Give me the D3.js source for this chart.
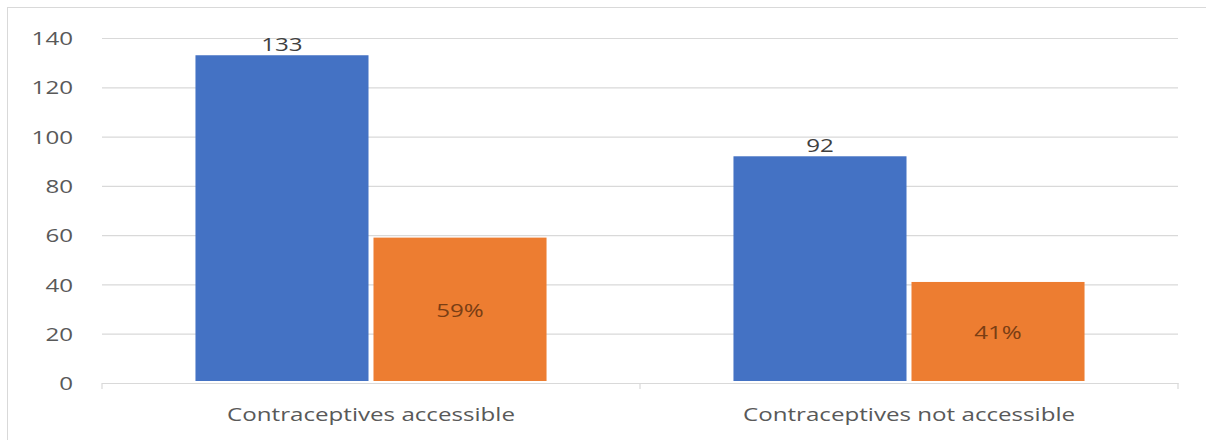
<!DOCTYPE html>
<html>
<head>
<meta charset="utf-8">
<script src="https://cdn.jsdelivr.net/npm/d3@7"></script>
<style>
  html, body { margin: 0; padding: 0; background: #fff; }
  svg { display: block; }
</style>
</head>
<body>
<svg id="chart" width="1206" height="440"></svg>
<script>
const categories = ["Contraceptives accessible", "Contraceptives not accessible"];
const seriesNames = ["Count", "Percent"];
const countValues = [133, 92];
const percentValues = [59, 41];
const countLabels = ["133", "92"];
const percentLabels = ["59%", "41%"];
const yTicks = [0, 20, 40, 60, 80, 100, 120, 140];
const colors = ["#4472C4", "#ED7D31"];

const svg = d3.select("#chart");
const W = 1206, H = 440;
const margin = { left: 102, right: 28, top: 38, bottom: 57 };
const x0 = margin.left, x1 = W - margin.right;
const yBottom = H - margin.bottom;
const FONT = "'Open Sans', sans-serif";
const STRETCH = 1.27;

function stretchText(sel) {
  sel.each(function () {
    const len = this.getComputedTextLength();
    d3.select(this).attr("textLength", len * STRETCH).attr("lengthAdjust", "spacingAndGlyphs");
  });
}

// border
svg.append("rect")
  .attr("x", 7.5).attr("y", 7.5)
  .attr("width", W + 10).attr("height", H + 10)
  .attr("fill", "none").attr("stroke", "#d9d9d9").attr("stroke-width", 1);

const x = d3.scaleBand().domain(categories).range([x0, x1]).paddingInner(0).paddingOuter(0);
const xs = d3.scaleBand().domain(seriesNames).range([0, x.bandwidth()]).paddingInner(0.028).paddingOuter(0.525);
const y = d3.scaleLinear().domain([0, 140]).range([yBottom, margin.top]);

// gridlines
svg.append("g")
  .attr("transform", `translate(${x0},0)`)
  .call(d3.axisLeft(y).tickValues(yTicks).tickSize(-(x1 - x0)).tickFormat(""))
  .call(g => g.select(".domain").remove())
  .call(g => g.selectAll("line").attr("stroke", "#d9d9d9").attr("stroke-width", 1.2));

// y tick labels
svg.append("g")
  .attr("transform", `translate(${x0 - 29},0)`)
  .call(d3.axisLeft(y).tickValues(yTicks).tickSize(0).tickFormat(d3.format("d")))
  .call(g => g.select(".domain").remove())
  .call(g => g.selectAll("text")
    .attr("x", 0).attr("dy", "0.35em")
    .attr("fill", "#595959")
    .style("font-family", FONT)
    .style("font-size", "19px")
    .call(stretchText));

// x axis
svg.append("g")
  .attr("transform", `translate(0,${yBottom})`)
  .call(d3.axisBottom(x).tickSize(0).tickPadding(25))
  .call(g => g.select(".domain").attr("stroke", "#d9d9d9").attr("stroke-width", 1.2))
  .call(g => g.selectAll("text")
    .attr("fill", "#595959")
    .style("font-family", FONT)
    .style("font-size", "19px")
    .call(stretchText));

// category boundary ticks
const bounds = [x0, ...categories.map(c => x(c) + x.bandwidth())];
svg.append("g").selectAll("line").data(bounds).join("line")
  .attr("x1", d => d).attr("x2", d => d)
  .attr("y1", yBottom).attr("y2", yBottom + 6)
  .attr("stroke", "#d9d9d9").attr("stroke-width", 1.2);

const data = categories.map((c, i) => ({ c, vals: [countValues[i], percentValues[i]], labs: [countLabels[i], percentLabels[i]] }));

const groups = svg.append("g").selectAll("g").data(data).join("g")
  .attr("transform", d => `translate(${x(d.c)},0)`);

groups.selectAll("rect").data(d => d.vals.map((v, j) => ({ v, j }))).join("rect")
  .attr("x", d => xs(seriesNames[d.j]))
  .attr("width", xs.bandwidth())
  .attr("y", d => y(d.v))
  .attr("height", d => y(0) - 2 - y(d.v))
  .attr("fill", d => colors[d.j]);

// count labels above blue bars
groups.append("text")
  .attr("x", xs(seriesNames[0]) + xs.bandwidth() / 2)
  .attr("y", d => y(d.vals[0]) - 4)
  .attr("text-anchor", "middle")
  .attr("fill", "#404040")
  .style("font-family", FONT)
  .style("font-size", "19px")
  .text(d => d.labs[0])
  .call(stretchText);

// percent labels inside orange bars
groups.append("text")
  .attr("x", xs(seriesNames[1]) + xs.bandwidth() / 2)
  .attr("y", d => (y(d.vals[1]) + y(0)) / 2)
  .attr("dy", "0.35em")
  .attr("text-anchor", "middle")
  .attr("fill", "#7a3e14")
  .style("font-family", FONT)
  .style("font-size", "19px")
  .text(d => d.labs[1])
  .call(stretchText);
</script>
</body>
</html>
